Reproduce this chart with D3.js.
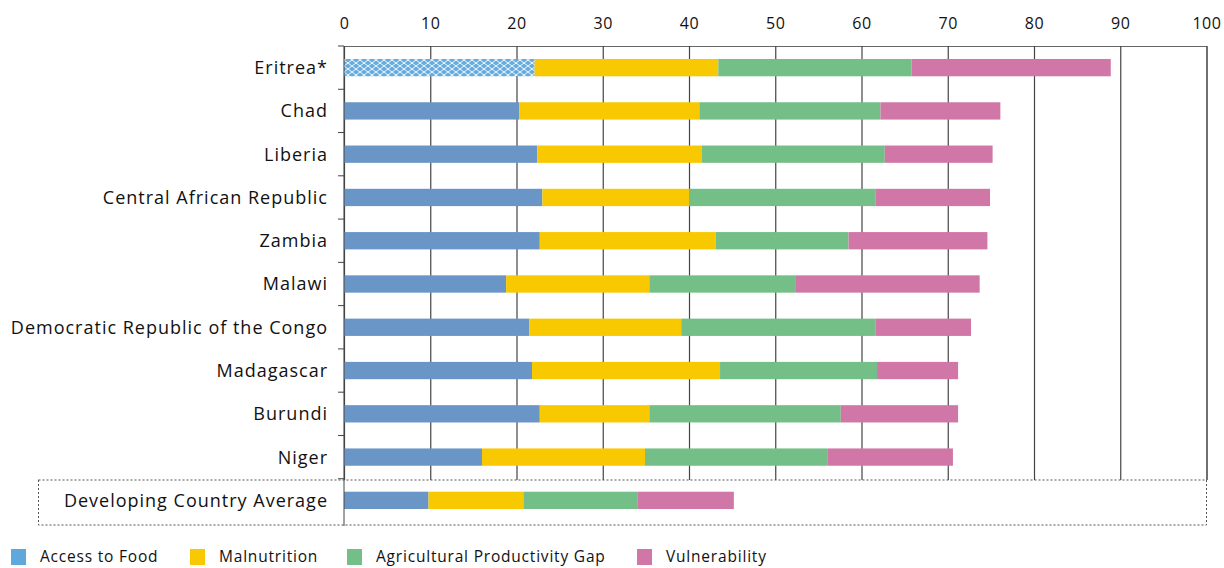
<!DOCTYPE html>
<html>
<head>
<meta charset="utf-8">
<script src="https://cdn.jsdelivr.net/npm/d3@7"></script>
<style>
  body { margin: 0; background: #fff; }
  svg text { font-family: "Open Sans", sans-serif; fill: #111; font-weight: 500; }
</style>
</head>
<body>
<svg width="1224" height="568"></svg>
<script>
// categories, top to bottom
const countries = ['Eritrea*', 'Chad', 'Liberia', 'Central African Republic', 'Zambia', 'Malawi',
  'Democratic Republic of the Congo', 'Madagascar', 'Burundi', 'Niger', 'Developing Country Average'];

// segment values
const accessToFood = [22.1, 20.3, 22.4, 23.0, 22.7, 18.8, 21.5, 21.8, 22.7, 16.0, 9.8];
const malnutrition = [21.3, 20.9, 19.1, 17.0, 20.4, 16.6, 17.6, 21.8, 12.7, 18.9, 11.0];
const agriGap = [22.4, 21.0, 21.2, 21.6, 15.4, 17.0, 22.5, 18.2, 22.2, 21.2, 13.2];
const vulnerability = [23.1, 13.9, 12.5, 13.3, 16.1, 21.3, 11.1, 9.4, 13.6, 14.5, 11.2];

const seriesNames = ['Access to Food', 'Malnutrition', 'Agricultural Productivity Gap', 'Vulnerability'];
const xTicks = [0, 10, 20, 30, 40, 50, 60, 70, 80, 90, 100];

const colors = ['#6996c7', '#f8c900', '#73bf87', '#d177a8'];
const legendColors = ['#5ea8dc', '#f8c900', '#73bf87', '#d177a8'];

const svg = d3.select('svg');

// table for the stack
const table = countries.map((c, i) => ({
  name: c,
  s0: accessToFood[i],
  s1: malnutrition[i],
  s2: agriGap[i],
  s3: vulnerability[i]
}));
const stacked = d3.stack().keys(['s0', 's1', 's2', 's3'])(table);

const x = d3.scaleLinear().domain([0, 100]).range([344, 1206.5]);
const y = d3.scaleBand()
  .domain(countries)
  .range([46, 522])
  .paddingInner(0.6)
  .paddingOuter(0.3);

// hatch for Eritrea access bar
const defs = svg.append('defs');
const pat = defs.append('pattern')
  .attr('id', 'hatch')
  .attr('patternUnits', 'userSpaceOnUse')
  .attr('width', 8)
  .attr('height', 6);
pat.append('rect').attr('width', 8).attr('height', 6).attr('fill', '#68acdf');
pat.append('path')
  .attr('d', 'M0,0 L8,6 M0,6 L8,0')
  .attr('stroke', '#fff')
  .attr('stroke-width', 0.9)
  .attr('fill', 'none');

// top axis with grid lines
const xAxis = svg.append('g')
  .attr('transform', 'translate(0,46)')
  .call(d3.axisTop(x).tickValues(xTicks).tickSize(-(480 - 46)));
xAxis.select('.domain').attr('stroke', '#666');
xAxis.selectAll('.tick line').attr('stroke', '#444').attr('stroke-width', 1.2);
xAxis.selectAll('.tick text')
  .attr('y', -17)
  .style('font-size', '16px')
  .style('letter-spacing', '0.6px')
  .style('font-family', '"Open Sans", sans-serif')
  .attr('fill', '#111');

// dashed box around the average row
svg.append('rect')
  .attr('x', 38.5)
  .attr('y', 480)
  .attr('width', 1206.5 - 38.5)
  .attr('height', 45)
  .attr('fill', 'none')
  .attr('stroke', '#555')
  .attr('stroke-dasharray', '2,2');

// bars
svg.append('g')
  .selectAll('g')
  .data(stacked)
  .join('g')
  .attr('fill', (d, i) => colors[i])
  .selectAll('rect')
  .data((d) => d)
  .join('rect')
  .attr('x', (d) => x(d[0]))
  .attr('y', (d) => y(d.data.name))
  .attr('width', (d) => x(d[1]) - x(d[0]))
  .attr('height', y.bandwidth())
  .attr('fill', (d) => (d.data.name === 'Eritrea*' && d[0] === 0 ? 'url(#hatch)' : null));

// left axis line and category ticks
svg.append('line')
  .attr('x1', 344).attr('x2', 344)
  .attr('y1', 46).attr('y2', 526)
  .attr('stroke', '#444');
const boundaries = d3.range(countries.length).map((i) => y.range()[0] + i * y.step());
svg.append('g')
  .selectAll('line')
  .data(boundaries)
  .join('line')
  .attr('x1', 338).attr('x2', 344)
  .attr('y1', (d) => d).attr('y2', (d) => d)
  .attr('stroke', '#444');

// category labels
svg.append('g')
  .selectAll('text')
  .data(countries)
  .join('text')
  .attr('x', 328)
  .attr('y', (d) => y(d) + y.bandwidth() / 2)
  .attr('dy', '0.36em')
  .attr('text-anchor', 'end')
  .style('font-size', '18px')
  .style('letter-spacing', '1px')
  .text((d) => d);

// legend
const legendX = [11, 190, 347, 637];
const legend = svg.append('g')
  .selectAll('g')
  .data(seriesNames)
  .join('g')
  .attr('transform', (d, i) => `translate(${legendX[i]},549)`);
legend.append('rect')
  .attr('width', 15)
  .attr('height', 16)
  .attr('fill', (d, i) => legendColors[i]);
legend.append('text')
  .attr('x', 29)
  .attr('y', 7)
  .attr('dy', '0.36em')
  .style('font-size', '15.5px')
  .style('letter-spacing', '0.8px')
  .text((d) => d);
</script>
</body>
</html>
